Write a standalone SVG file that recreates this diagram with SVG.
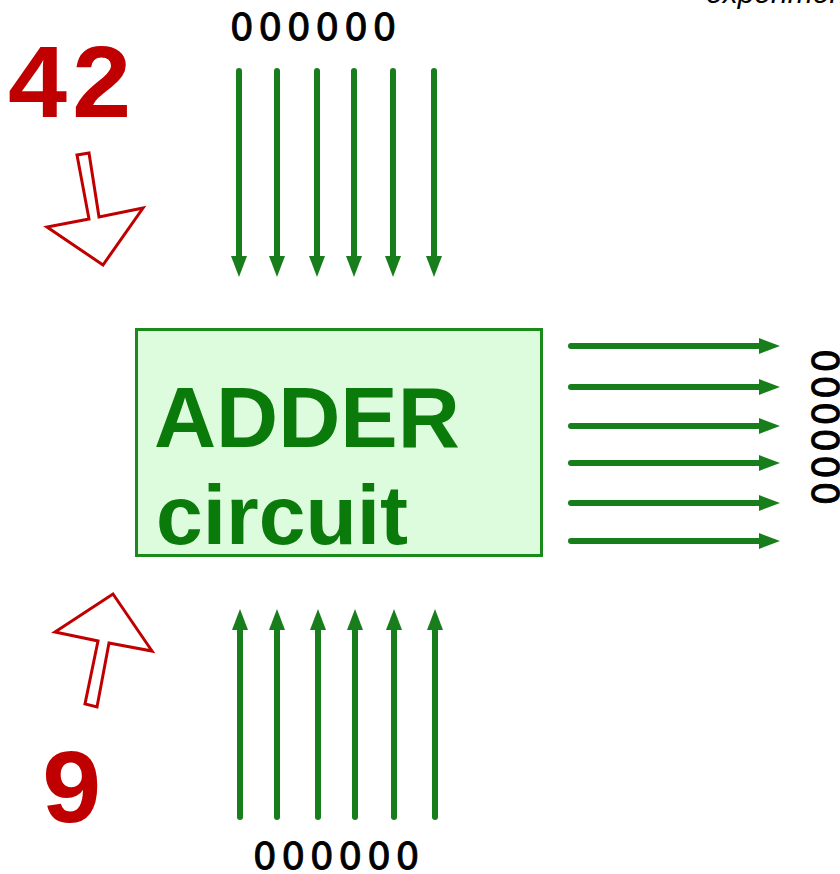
<svg xmlns="http://www.w3.org/2000/svg" width="840" height="874" viewBox="0 0 840 874">
<style>
.wire{stroke:#177e1b;stroke-width:6;stroke-linecap:round;fill:none;marker-end:url(#ah)}
.bits{font-family:"DejaVu Sans","Liberation Sans",sans-serif;font-size:37px;letter-spacing:5px;fill:#000;stroke:#000;stroke-width:0.9}
.num{font-family:"Liberation Mono","Courier New",monospace;font-weight:bold;font-size:106px;fill:#c00000}
.hollow{fill:#fff;stroke:#c00000;stroke-width:3;stroke-linejoin:miter}
.lbl{font-family:"Liberation Sans",Arial,sans-serif;font-weight:bold;fill:#0a7a0a}
</style>
<defs>
<marker id="ah" markerWidth="22" markerHeight="16" refX="0" refY="8" orient="auto" markerUnits="userSpaceOnUse">
<path d="M0,0 L21,8 L0,16 z" fill="#177e1b"/>
</marker>
</defs>
<rect width="840" height="874" fill="#fff"/>
<text x="706" y="3" font-family="Liberation Sans,Arial,sans-serif" font-style="italic" font-size="30" fill="#000">experiment</text>
<g id="adder">
<rect x="136.5" y="329.5" width="405" height="226" fill="#ddfcdd" stroke="#1a8a1a" stroke-width="3"/>
<text class="lbl" x="154" y="447" font-size="86">ADDER</text>
<text class="lbl" x="156" y="544" font-size="84">circuit</text>
</g>
<g id="input-a">
<text class="num" x="6" y="117">42</text>
<polygon class="hollow" points="77,155 89,153 99,217 143,208 103,265 47,227 89,219"/>
<text class="bits" x="230" y="40">000000</text>
</g>
<g id="input-b">
<text class="num" x="40" y="822">9</text>
<polygon class="hollow" points="113,594 152,651 109,643 97,707 85,704 98,641 55,632"/>
<text class="bits" x="253" y="869">000000</text>
</g>
<g id="output">
<text class="bits" transform="translate(812,349) rotate(90)" style="letter-spacing:3px">000000</text>
</g>
<g id="connectors">
<line class="wire" x1="239" y1="71" x2="239" y2="256"/>
<line class="wire" x1="277" y1="71" x2="277" y2="256"/>
<line class="wire" x1="317" y1="71" x2="317" y2="256"/>
<line class="wire" x1="354" y1="71" x2="354" y2="256"/>
<line class="wire" x1="393" y1="71" x2="393" y2="256"/>
<line class="wire" x1="434" y1="71" x2="434" y2="256"/>
<line class="wire" x1="240" y1="817" x2="240" y2="630"/>
<line class="wire" x1="277" y1="817" x2="277" y2="630"/>
<line class="wire" x1="318" y1="817" x2="318" y2="630"/>
<line class="wire" x1="355" y1="817" x2="355" y2="630"/>
<line class="wire" x1="394" y1="817" x2="394" y2="630"/>
<line class="wire" x1="435" y1="817" x2="435" y2="630"/>
<line class="wire" x1="571" y1="346" x2="759" y2="346"/>
<line class="wire" x1="571" y1="387" x2="759" y2="387"/>
<line class="wire" x1="571" y1="426" x2="759" y2="426"/>
<line class="wire" x1="571" y1="463" x2="759" y2="463"/>
<line class="wire" x1="571" y1="503" x2="759" y2="503"/>
<line class="wire" x1="571" y1="541" x2="759" y2="541"/>
</g>
</svg>
